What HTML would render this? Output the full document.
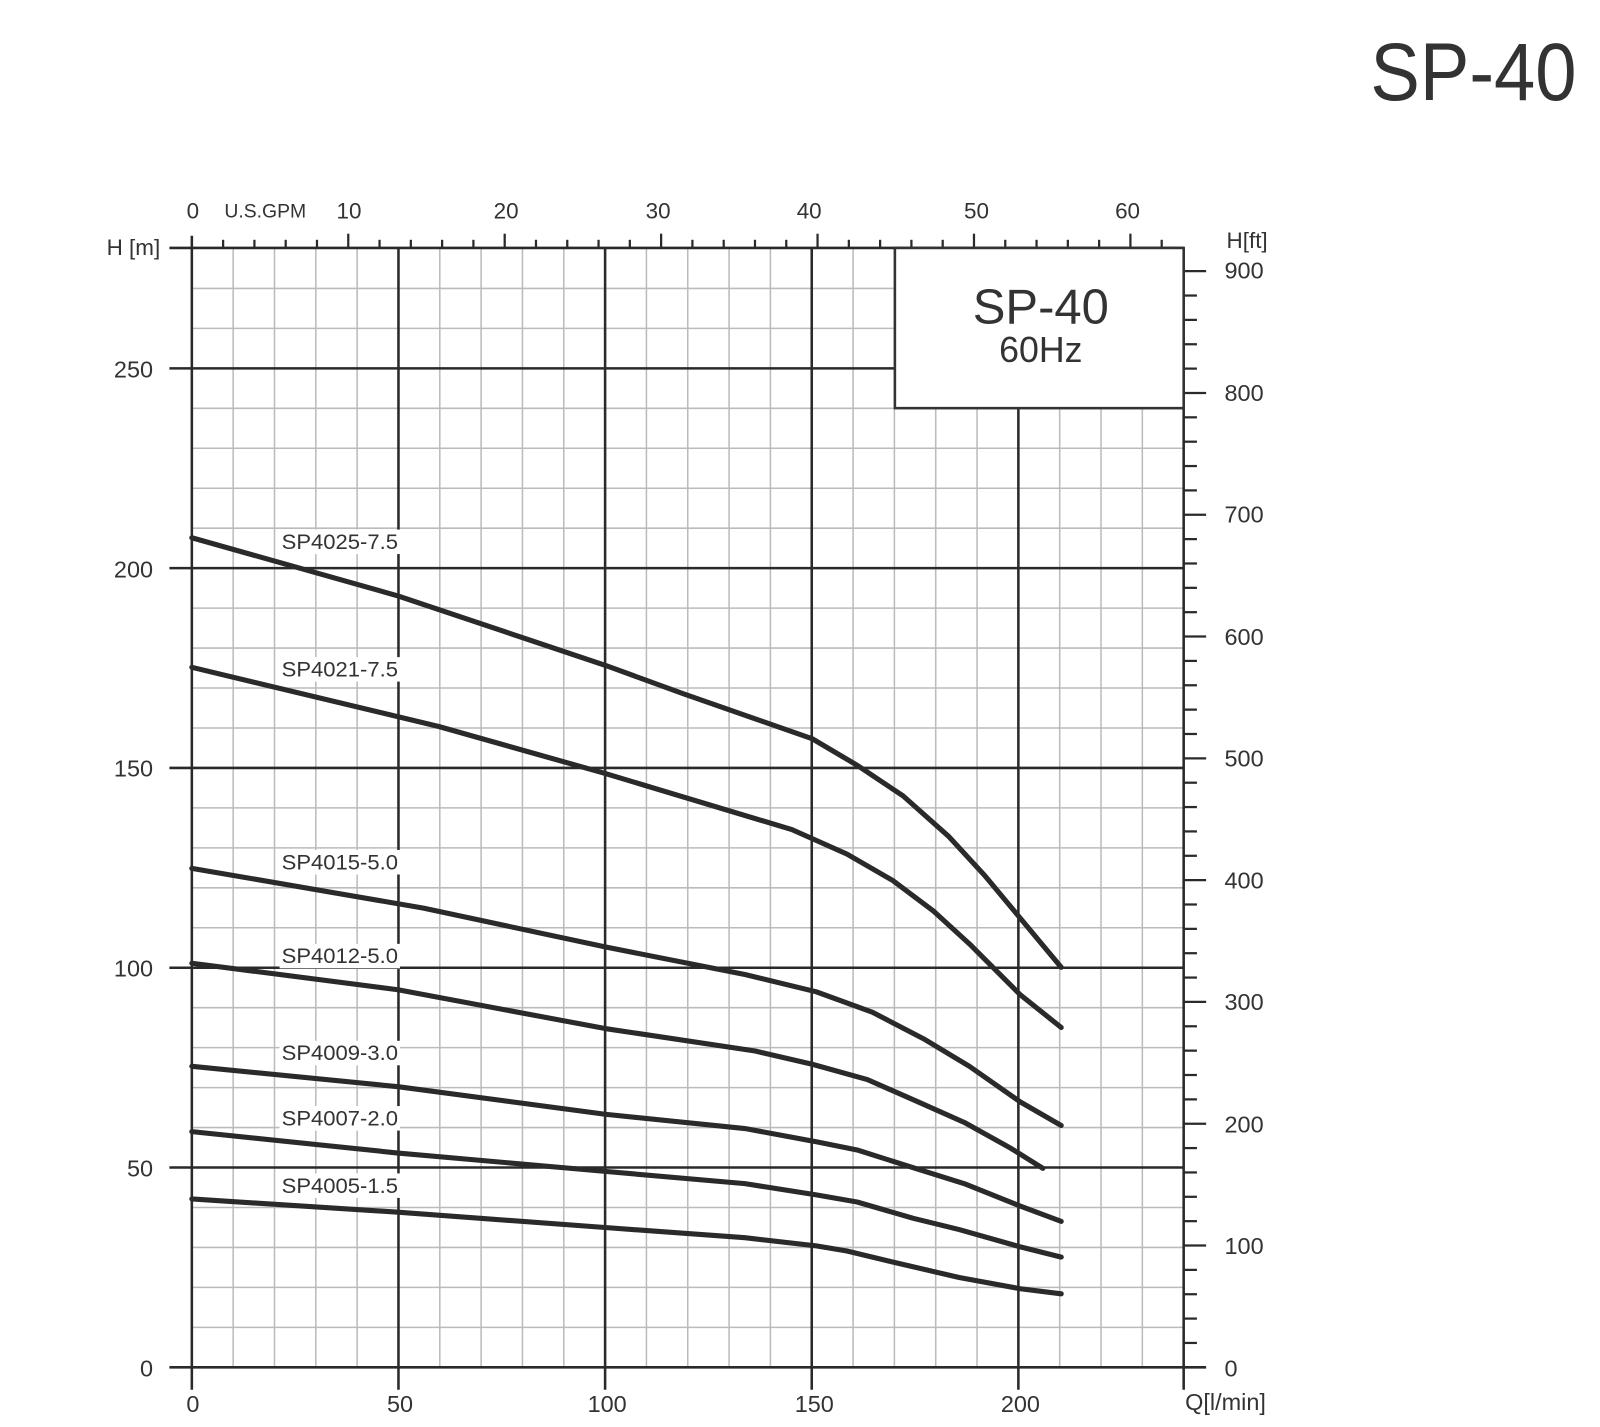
<!DOCTYPE html>
<html><head><meta charset="utf-8"><style>
html,body{margin:0;padding:0;background:#fff;}
svg{display:block;}
text{font-family:"Liberation Sans",sans-serif;fill:#333;}
</style></head><body>
<svg id="s" width="1600" height="1427" viewBox="0 0 1568 1398.5" preserveAspectRatio="none" xmlns="http://www.w3.org/2000/svg">
<g id="grid"></g>
<g id="major"></g>
<rect x="877" y="243" width="283" height="157" fill="#fff" stroke="#333" stroke-width="2.5"/>
<text x="1020" y="317" font-size="48" text-anchor="middle">SP-40</text>
<text x="1020" y="355" font-size="35" text-anchor="middle">60Hz</text>
<text x="1343" y="98" font-size="80" textLength="202" lengthAdjust="spacingAndGlyphs">SP-40</text>
<g id="curves" fill="none" stroke="#2a2a2a" stroke-width="5" stroke-linejoin="round" stroke-linecap="round"></g>
<g font-size="22" text-anchor="middle">
<text x="189" y="214">0</text>
<text x="260" y="213" font-size="19">U.S.GPM</text>
<text x="342" y="214">10</text>
<text x="496" y="214">20</text>
<text x="645" y="214">30</text>
<text x="793" y="214">40</text>
<text x="957" y="214">50</text>
<text x="1105" y="214">60</text>
</g>
<g font-size="23" text-anchor="middle">
<text x="189" y="1384">0</text>
<text x="392" y="1384">50</text>
<text x="595" y="1384">100</text>
<text x="798" y="1384">150</text>
<text x="1000" y="1384">200</text>
<text x="1201" y="1382">Q[l/min]</text>
</g>
<g font-size="23" text-anchor="end">
<text x="150" y="1349">0</text>
<text x="150" y="1153">50</text>
<text x="150" y="957">100</text>
<text x="150" y="761">150</text>
<text x="150" y="566">200</text>
<text x="150" y="370">250</text>
<text x="157" y="250" font-size="22">H [m]</text>
</g>
<g font-size="23">
<text x="1200" y="1349">0</text>
<text x="1200" y="1229">100</text>
<text x="1200" y="1110">200</text>
<text x="1200" y="990">300</text>
<text x="1200" y="871">400</text>
<text x="1200" y="751">500</text>
<text x="1200" y="632">600</text>
<text x="1200" y="512">700</text>
<text x="1200" y="393">800</text>
<text x="1200" y="273">900</text>
<text x="1202" y="243" font-size="22">H[ft]</text>
</g>
<g id="labels" font-size="20.5"></g>
</svg>
<script>
var NS="http://www.w3.org/2000/svg";
function el(p,t,a){var e=document.createElementNS(NS,t);for(var k in a)e.setAttribute(k,a[k]);p.appendChild(e);return e;}
var g=document.getElementById('grid'),m=document.getElementById('major');
function X(q){return 188+q*4.05;} function Y(h){return 1340-h*3.916;}
var L=188,R=1160,T=243,B=1340;
for(var q=10;q<240;q+=10){if(q%50)el(g,'line',{x1:X(q),y1:T,x2:X(q),y2:B,stroke:'#bbb','stroke-width':1.5});}
for(var h=10;h<280;h+=10){if(h%50)el(g,'line',{x1:L,y1:Y(h),x2:R,y2:Y(h),stroke:'#bbb','stroke-width':1.5});}
for(var q=50;q<240;q+=50)el(m,'line',{x1:X(q),y1:T,x2:X(q),y2:B+22,stroke:'#2a2a2a','stroke-width':2.5});
for(var h=50;h<280;h+=50)el(m,'line',{x1:L-22,y1:Y(h),x2:R,y2:Y(h),stroke:'#2a2a2a','stroke-width':2.5});
el(m,'line',{x1:L-22,y1:T,x2:R,y2:T,stroke:'#2a2a2a','stroke-width':2.5});
el(m,'line',{x1:L-22,y1:B,x2:R+22,y2:B,stroke:'#2a2a2a','stroke-width':2.5});
el(m,'line',{x1:L,y1:T-12,x2:L,y2:B+22,stroke:'#2a2a2a','stroke-width':2.5});
el(m,'line',{x1:R,y1:T,x2:R,y2:B+22,stroke:'#2a2a2a','stroke-width':2.5});
for(var gp=2;gp<=62;gp+=2){var x=188+gp*15.33;var big=gp%10==0;el(m,'line',{x1:x,y1:T,x2:x,y2:T-(big?14:8),stroke:'#2a2a2a','stroke-width':2.2});}
for(var ft=20;ft<=920;ft+=20){var y=1340-ft*1.1936;if(y<T)break;var big=ft%100==0;el(m,'line',{x1:R,y1:y,x2:R+(big?22:13),y2:y,stroke:'#2a2a2a','stroke-width':2.2});}
var C=[
["SP4025-7.5",531,[[188,527],[390,584],[593,652],[670,680],[796,724],[840,750],[885,780],[930,820],[965,858],[1000,900],[1040,948]]],
["SP4021-7.5",656,[[188,654],[430,712],[593,758],[776,813],[830,837],[875,863],[915,893],[950,925],[1000,975],[1040,1007]]],
["SP4015-5.0",845,[[188,851],[415,890],[593,928],[730,955],[800,972],[855,992],[905,1018],[950,1045],[1000,1080],[1040,1103]]],
["SP4012-5.0",937,[[188,944],[390,970],[593,1008],[740,1030],[796,1043],[850,1058],[900,1080],[945,1100],[990,1125],[1022,1145]]],
["SP4009-3.0",1032,[[188,1045],[390,1065],[593,1092],[730,1106],[800,1119],[840,1127],[900,1146],[945,1160],[1000,1182],[1040,1197]]],
["SP4007-2.0",1096,[[188,1109],[390,1130],[593,1148],[730,1160],[800,1171],[840,1178],[895,1194],[940,1205],[1000,1222],[1040,1232]]],
["SP4005-1.5",1162,[[188,1175],[390,1188],[593,1203],[730,1213],[800,1221],[830,1226],[880,1238],[940,1252],[1000,1263],[1040,1268]]]];
var cg=document.getElementById('curves'),lg=document.getElementById('labels');
C.forEach(function(c){
 el(cg,'polyline',{points:c[2].map(function(p){return p.join(',');}).join(' ')});
 el(lg,'rect',{x:274,y:c[1]-12,width:118,height:24,fill:'#fff'});
 var t=el(lg,'text',{x:276,y:c[1]+7,textLength:114,lengthAdjust:'spacingAndGlyphs'});t.textContent=c[0];
});
</script>
</body></html>
